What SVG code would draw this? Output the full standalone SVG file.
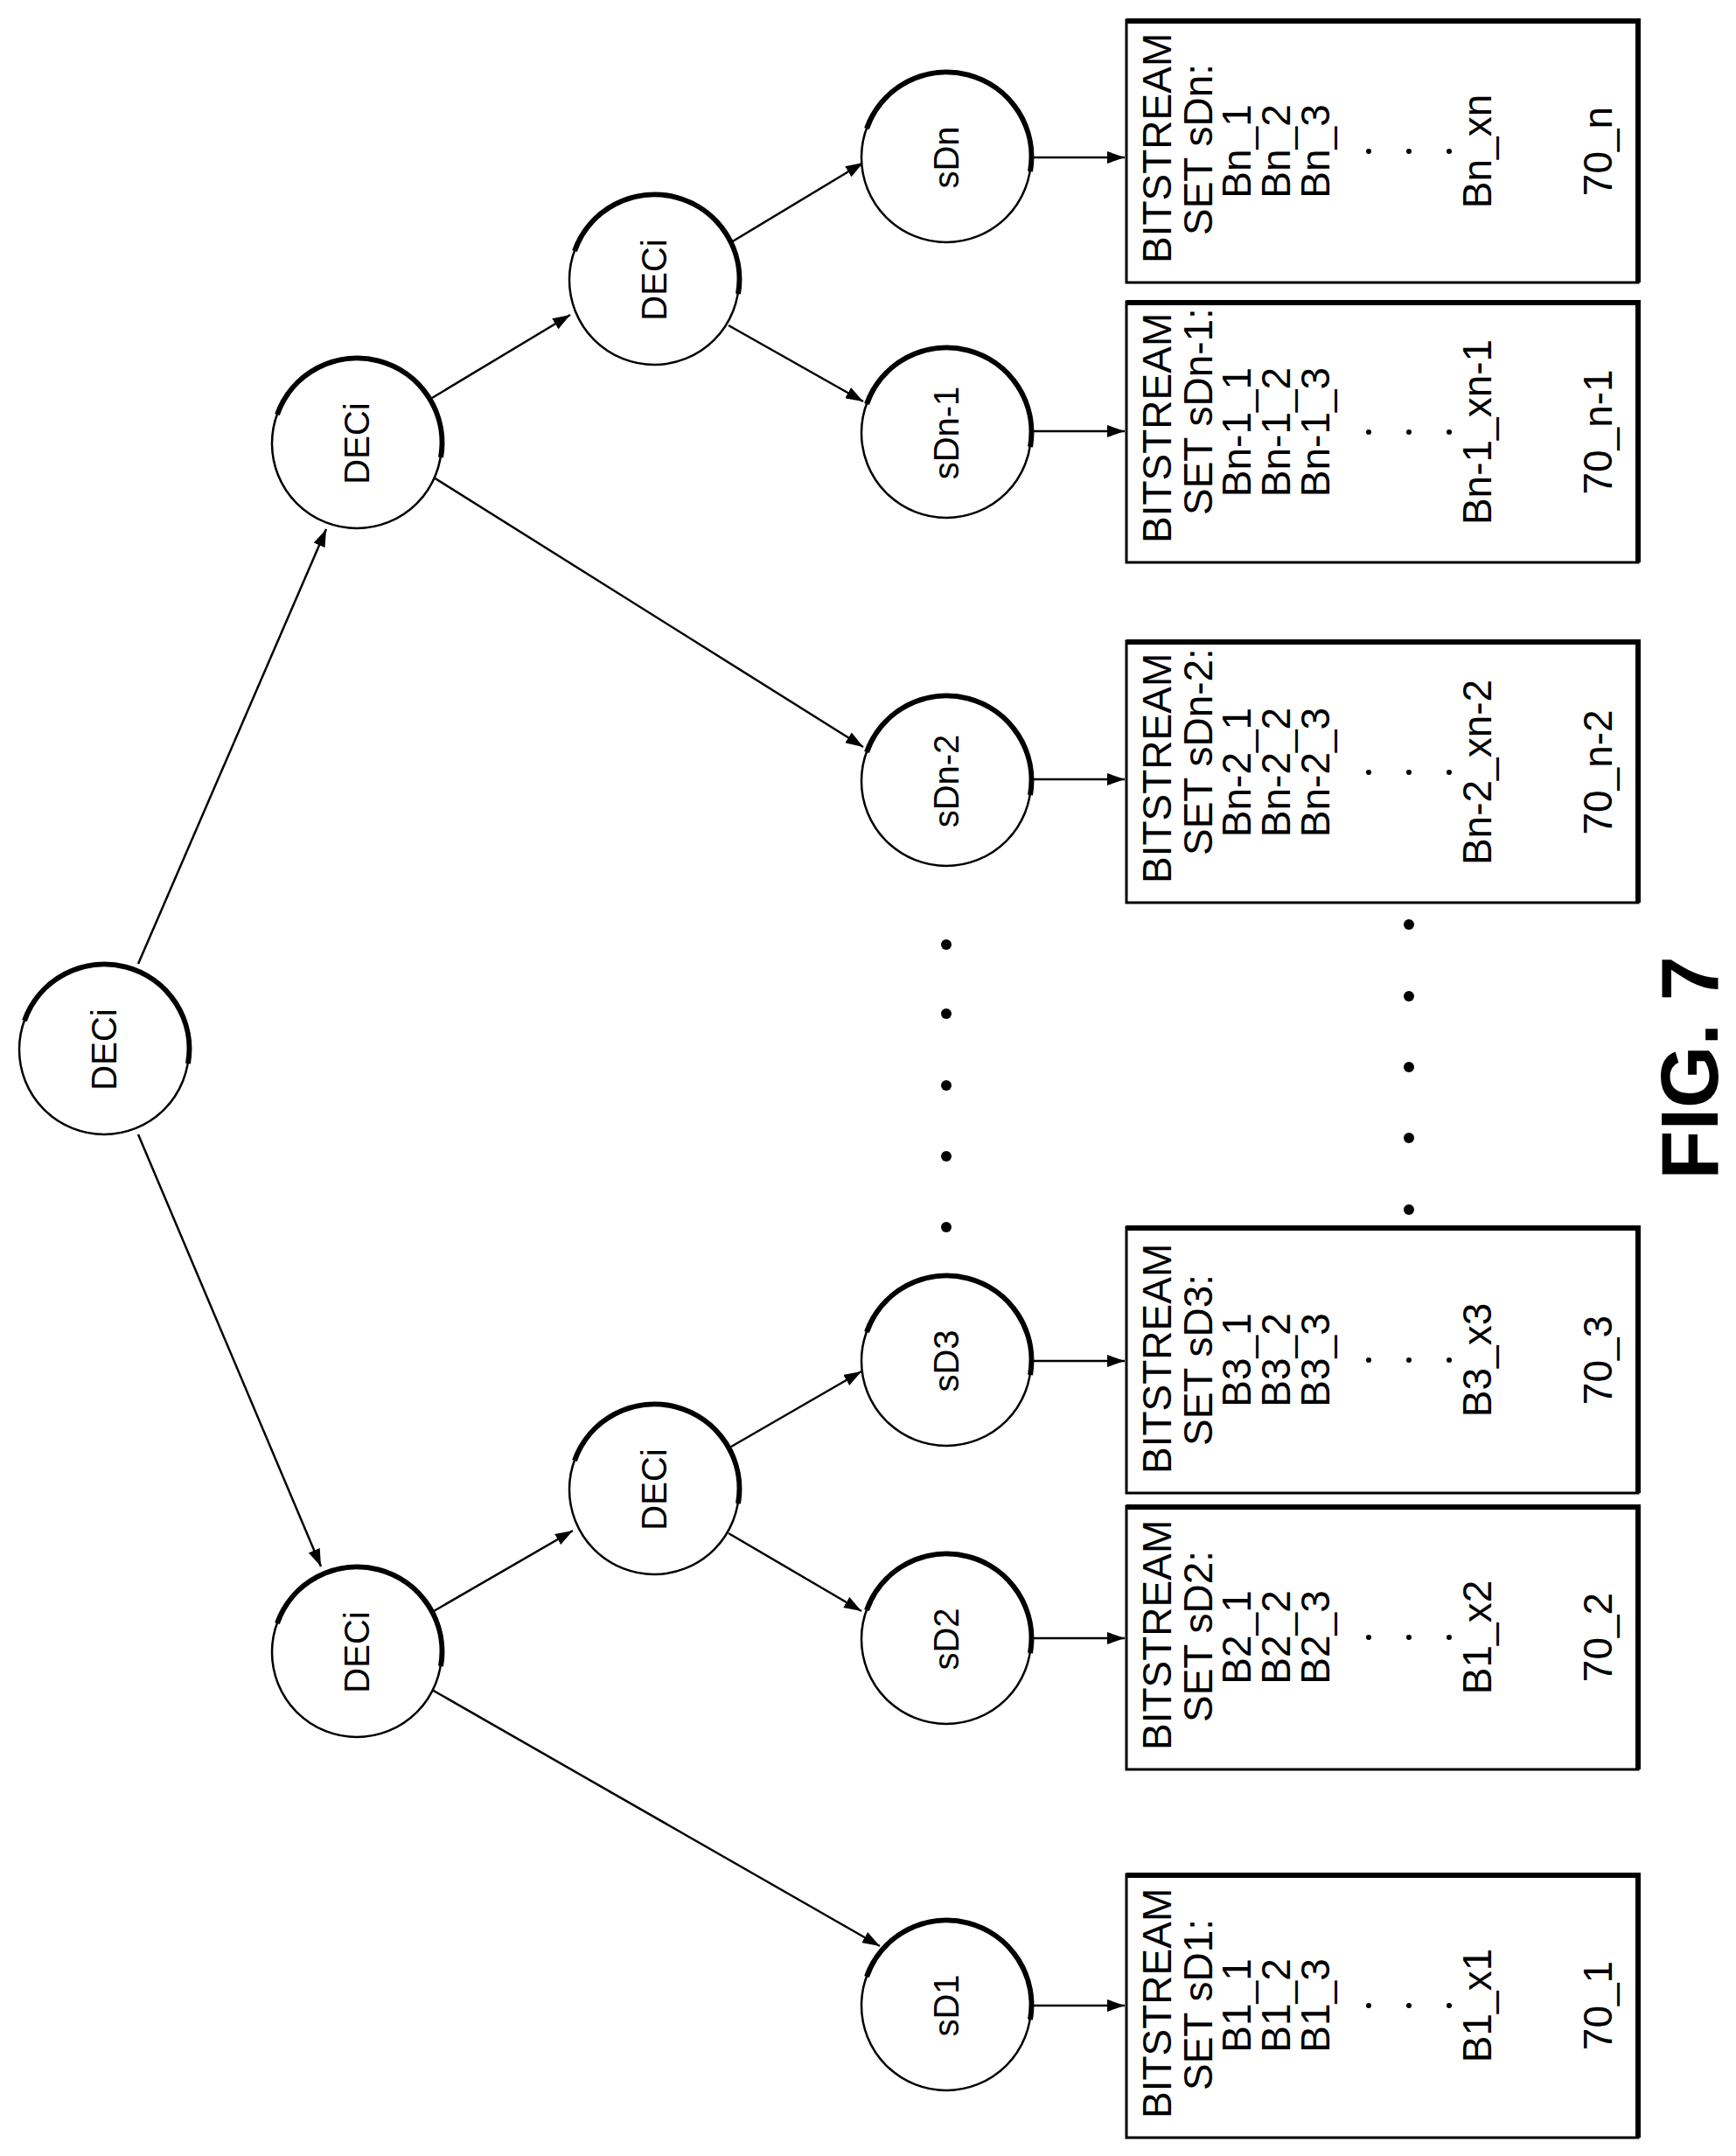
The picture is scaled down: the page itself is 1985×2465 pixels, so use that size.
<svg xmlns="http://www.w3.org/2000/svg" width="1985" height="2465" viewBox="0 0 1985 2465">
<style>
.c{fill:#fff;stroke:#000;stroke-width:2.5}
.sh{fill:none;stroke:#000;stroke-width:6}
.lb{font-family:"Liberation Sans",Arial,sans-serif;font-size:40px;text-anchor:middle}
.bx{fill:#fff;stroke:#000;stroke-width:3}
.t{font-family:"Liberation Sans",Arial,sans-serif;font-size:46px}
.m{text-anchor:middle}
.e{fill:none;stroke:#000;stroke-width:2.5;marker-end:url(#ah)}
.fig{font-family:"Liberation Sans",Arial,sans-serif;font-size:92px;font-weight:bold;text-anchor:middle}
</style>
<defs>
<marker id="ah" markerWidth="22" markerHeight="14" refX="20" refY="7" orient="auto" markerUnits="userSpaceOnUse"><path d="M0,0 L20,7 L0,14 Z" fill="#000"/></marker>
<g id="circ"><circle class="c" cx="0" cy="0" r="97"/><path class="sh" d="M-91,-33 A97,97 0 0 1 96,16"/></g>
</defs>
<rect width="1985" height="2465" fill="#fff"/>
<g id="connectors">
<line class="e" x1="158" y1="1102" x2="373" y2="605"/>
<line class="e" x1="158" y1="1297" x2="367" y2="1791"/>
<line class="e" x1="494" y1="455" x2="652" y2="360"/>
<line class="e" x1="496" y1="546" x2="987" y2="854"/>
<line class="e" x1="836" y1="277" x2="987" y2="186"/>
<line class="e" x1="833" y1="372" x2="987" y2="459"/>
<line class="e" x1="496" y1="1842" x2="655" y2="1750"/>
<line class="e" x1="836" y1="1654" x2="985" y2="1568"/>
<line class="e" x1="833" y1="1753" x2="985" y2="1842"/>
<line class="e" x1="494" y1="1932" x2="1006" y2="2225"/>
<line class="e" x1="1179" y1="180" x2="1286" y2="180"/>
<line class="e" x1="1179" y1="493" x2="1286" y2="493"/>
<line class="e" x1="1179" y1="891" x2="1286" y2="891"/>
<line class="e" x1="1179" y1="1556" x2="1286" y2="1556"/>
<line class="e" x1="1179" y1="1873" x2="1286" y2="1873"/>
<line class="e" x1="1179" y1="2293" x2="1286" y2="2293"/>
</g>
<g id="root"><use href="#circ" x="119" y="1200"/><text class="lb" transform="translate(133,1200) rotate(-90)">DECi</text></g>
<g id="dec2a"><use href="#circ" x="408" y="507"/><text class="lb" transform="translate(422,507) rotate(-90)">DECi</text></g>
<g id="dec2b"><use href="#circ" x="408" y="1889"/><text class="lb" transform="translate(422,1889) rotate(-90)">DECi</text></g>
<g id="dec3a"><use href="#circ" x="748" y="320"/><text class="lb" transform="translate(762,320) rotate(-90)">DECi</text></g>
<g id="dec3b"><use href="#circ" x="748" y="1703"/><text class="lb" transform="translate(762,1703) rotate(-90)">DECi</text></g>
<g id="sDn"><use href="#circ" x="1082" y="180"/><text class="lb" transform="translate(1096,180) rotate(-90)">sDn</text></g>
<g id="sDn-1"><use href="#circ" x="1082" y="495"/><text class="lb" transform="translate(1096,495) rotate(-90)">sDn-1</text></g>
<g id="sDn-2"><use href="#circ" x="1082" y="893"/><text class="lb" transform="translate(1096,893) rotate(-90)">sDn-2</text></g>
<g id="sD3"><use href="#circ" x="1082" y="1556"/><text class="lb" transform="translate(1096,1556) rotate(-90)">sD3</text></g>
<g id="sD2"><use href="#circ" x="1082" y="1874"/><text class="lb" transform="translate(1096,1874) rotate(-90)">sD2</text></g>
<g id="sD1"><use href="#circ" x="1082" y="2293"/><text class="lb" transform="translate(1096,2293) rotate(-90)">sD1</text></g>
<g id="dots">
<circle cx="1082" cy="1080" r="6"/><circle cx="1082" cy="1159" r="6"/><circle cx="1082" cy="1241" r="6"/><circle cx="1082" cy="1322" r="6"/><circle cx="1082" cy="1403" r="6"/>
<circle cx="1611" cy="1057" r="6"/><circle cx="1611" cy="1139" r="6"/><circle cx="1611" cy="1220" r="6"/><circle cx="1611" cy="1301" r="6"/><circle cx="1611" cy="1383" r="6"/>
</g>
<!-- boxes -->
<g id="box_n">
<rect class="bx" x="1288" y="23" width="585" height="300"/><path class="sh" d="M1288,24 H1873 V323"/>
<text class="t" transform="translate(1339,301) rotate(-90)">BITSTREAM</text>
<text class="t" transform="translate(1386,269) rotate(-90)">SET sDn:</text>
<text class="t m" transform="translate(1430,173) rotate(-90)">Bn_1</text>
<text class="t m" transform="translate(1475,173) rotate(-90)">Bn_2</text>
<text class="t m" transform="translate(1520,173) rotate(-90)">Bn_3</text>
<circle cx="1565" cy="173" r="3"/><circle cx="1611" cy="173" r="3"/><circle cx="1657" cy="173" r="3"/>
<text class="t m" transform="translate(1705,173) rotate(-90)">Bn_xn</text>
<text class="t m" transform="translate(1843,173) rotate(-90)">70_n</text>
</g>
<g id="box_n1">
<rect class="bx" x="1288" y="345" width="585" height="298"/><path class="sh" d="M1288,346 H1873 V643"/>
<text class="t" transform="translate(1339,621) rotate(-90)">BITSTREAM</text>
<text class="t" transform="translate(1386,589) rotate(-90)">SET sDn-1:</text>
<text class="t m" transform="translate(1430,494) rotate(-90)">Bn-1_1</text>
<text class="t m" transform="translate(1475,494) rotate(-90)">Bn-1_2</text>
<text class="t m" transform="translate(1520,494) rotate(-90)">Bn-1_3</text>
<circle cx="1565" cy="494" r="3"/><circle cx="1611" cy="494" r="3"/><circle cx="1657" cy="494" r="3"/>
<text class="t m" transform="translate(1705,494) rotate(-90)">Bn-1_xn-1</text>
<text class="t m" transform="translate(1843,494) rotate(-90)">70_n-1</text>
</g>
<g id="box_n2">
<rect class="bx" x="1288" y="733" width="585" height="299"/><path class="sh" d="M1288,734 H1873 V1032"/>
<text class="t" transform="translate(1339,1010) rotate(-90)">BITSTREAM</text>
<text class="t" transform="translate(1386,978) rotate(-90)">SET sDn-2:</text>
<text class="t m" transform="translate(1430,883) rotate(-90)">Bn-2_1</text>
<text class="t m" transform="translate(1475,883) rotate(-90)">Bn-2_2</text>
<text class="t m" transform="translate(1520,883) rotate(-90)">Bn-2_3</text>
<circle cx="1565" cy="883" r="3"/><circle cx="1611" cy="883" r="3"/><circle cx="1657" cy="883" r="3"/>
<text class="t m" transform="translate(1705,883) rotate(-90)">Bn-2_xn-2</text>
<text class="t m" transform="translate(1843,883) rotate(-90)">70_n-2</text>
</g>
<g id="box_3">
<rect class="bx" x="1288" y="1403" width="585" height="304"/><path class="sh" d="M1288,1404 H1873 V1707"/>
<text class="t" transform="translate(1339,1685) rotate(-90)">BITSTREAM</text>
<text class="t" transform="translate(1386,1653) rotate(-90)">SET sD3:</text>
<text class="t m" transform="translate(1430,1555) rotate(-90)">B3_1</text>
<text class="t m" transform="translate(1475,1555) rotate(-90)">B3_2</text>
<text class="t m" transform="translate(1520,1555) rotate(-90)">B3_3</text>
<circle cx="1565" cy="1555" r="3"/><circle cx="1611" cy="1555" r="3"/><circle cx="1657" cy="1555" r="3"/>
<text class="t m" transform="translate(1705,1555) rotate(-90)">B3_x3</text>
<text class="t m" transform="translate(1843,1555) rotate(-90)">70_3</text>
</g>
<g id="box_2">
<rect class="bx" x="1288" y="1722" width="585" height="301"/><path class="sh" d="M1288,1723 H1873 V2023"/>
<text class="t" transform="translate(1339,2001) rotate(-90)">BITSTREAM</text>
<text class="t" transform="translate(1386,1969) rotate(-90)">SET sD2:</text>
<text class="t m" transform="translate(1430,1872) rotate(-90)">B2_1</text>
<text class="t m" transform="translate(1475,1872) rotate(-90)">B2_2</text>
<text class="t m" transform="translate(1520,1872) rotate(-90)">B2_3</text>
<circle cx="1565" cy="1872" r="3"/><circle cx="1611" cy="1872" r="3"/><circle cx="1657" cy="1872" r="3"/>
<text class="t m" transform="translate(1705,1872) rotate(-90)">B1_x2</text>
<text class="t m" transform="translate(1843,1872) rotate(-90)">70_2</text>
</g>
<g id="box_1">
<rect class="bx" x="1288" y="2143" width="585" height="301"/><path class="sh" d="M1288,2144 H1873 V2444"/>
<text class="t" transform="translate(1339,2422) rotate(-90)">BITSTREAM</text>
<text class="t" transform="translate(1386,2390) rotate(-90)">SET sD1:</text>
<text class="t m" transform="translate(1430,2293) rotate(-90)">B1_1</text>
<text class="t m" transform="translate(1475,2293) rotate(-90)">B1_2</text>
<text class="t m" transform="translate(1520,2293) rotate(-90)">B1_3</text>
<circle cx="1565" cy="2293" r="3"/><circle cx="1611" cy="2293" r="3"/><circle cx="1657" cy="2293" r="3"/>
<text class="t m" transform="translate(1705,2293) rotate(-90)">B1_x1</text>
<text class="t m" transform="translate(1843,2293) rotate(-90)">70_1</text>
</g>
<text class="fig" transform="translate(1964,1221) rotate(-90)">FIG. 7</text>
</svg>
